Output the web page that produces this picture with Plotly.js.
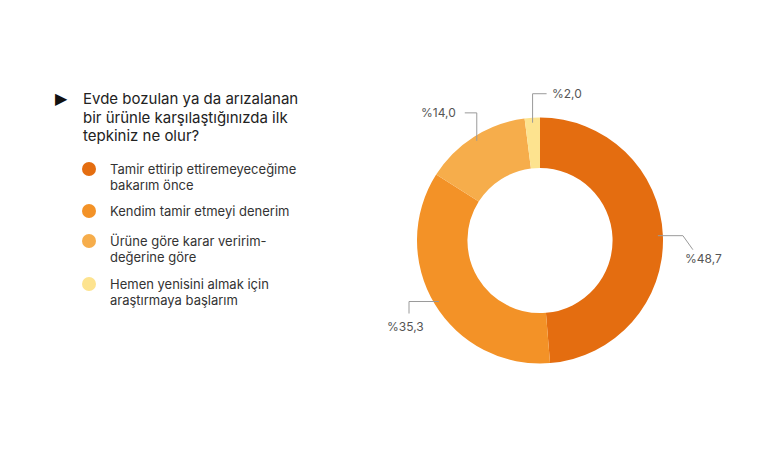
<!DOCTYPE html>
<html>
<head>
<meta charset="utf-8">
<script src="https://cdn.plot.ly/plotly-3.0.1.min.js"></script>
<style>
  html, body { margin: 0; padding: 0; background: #fff; }
  #chart { width: 770px; height: 450px; }
</style>
</head>
<body>
<div id="chart"></div>
<script>
// survey answers, in drawing order (clockwise from 12 o'clock)
const answers = [
    'Tamir ettirip ettiremeyeceğime<br>bakarım önce',
    'Kendim tamir etmeyi denerim',
    'Ürüne göre karar veririm-<br>değerine göre',
    'Hemen yenisini almak için<br>araştırmaya başlarım'
];
const shares = [48.7, 35.3, 14.0, 2.0];
const sliceColors = ['#E46D10', '#F39227', '#F6AD4B', '#FDE38F'];
const questionText = 'Evde bozulan ya da arızalanan<br>bir ürünle karşılaştığınızda ilk<br>tepkiniz ne olur?';

const W = 770, H = 450;
const FONT = 'Inter, "Open Sans", sans-serif';

// donut placement (pixels)
const cx = 540, cy = 240.5, R = 123;

const px = x => x / W;
const py = y => 1 - y / H;

// leader line layout per slice: first leg, second leg, label offset from end, anchor
const legs = [
    {a: [25, 0], b: [10, 14], off: [-10, 9], anchor: 'left'},
    {a: [-30, 0], b: [0, 12], off: [-4, 13], anchor: 'center'},
    {a: [0, -28], b: [-12, 0], off: [-7, 0], anchor: 'right'},
    {a: [0, -29], b: [14, 0], off: [3, 0], anchor: 'left'}
];

let shapes = [];
let annotations = [];

// one annotation per text line so the line spacing can be set
function addLines(text, x, y, gap, font) {
    text.split('<br>').forEach((line, k) => {
        annotations.push({
            xref: 'paper', yref: 'paper', showarrow: false,
            x: px(x), y: py(y + k * gap), xanchor: 'left', yanchor: 'middle',
            text: line, font: font
        });
    });
}

// leader lines + value labels, anchored on each slice's mid angle
let total = shares.reduce((s, v) => s + v, 0);
let acc = 0;
shares.forEach((v, i) => {
    let mid = (acc + v / 2) / total * 2 * Math.PI;
    acc += v;
    let x0 = cx + 118 * Math.sin(mid);
    let y0 = cy - 118 * Math.cos(mid);
    let x1 = x0 + legs[i].a[0], y1 = y0 + legs[i].a[1];
    let x2 = x1 + legs[i].b[0], y2 = y1 + legs[i].b[1];
    shapes.push({
        type: 'path', xref: 'paper', yref: 'paper',
        path: `M${px(x0)},${py(y0)} L${px(x1)},${py(y1)} L${px(x2)},${py(y2)}`,
        line: {color: '#9a9a9a', width: 1}
    });
    annotations.push({
        xref: 'paper', yref: 'paper', showarrow: false,
        x: px(x2 + legs[i].off[0]), y: py(y2 + legs[i].off[1]),
        xanchor: legs[i].anchor, yanchor: 'middle',
        text: '%' + v.toFixed(1).replace('.', ','),
        font: {family: FONT, size: 12, color: '#555'}
    });
});

// question heading
annotations.push({
    xref: 'paper', yref: 'paper', showarrow: false,
    x: px(53), y: py(99), xanchor: 'left', yanchor: 'middle',
    text: '▶', font: {family: 'DejaVu Sans', size: 16, color: '#111'}
});
addLines(questionText, 81, 99, 18.5, {family: FONT, size: 15, color: '#222'});

// legend: round markers and wrapped labels
const legendRows = [169, 211, 241, 284];
answers.forEach((name, i) => {
    shapes.push({
        type: 'circle', xref: 'paper', yref: 'paper',
        x0: px(82), x1: px(96), y0: py(legendRows[i] + 7), y1: py(legendRows[i] - 7),
        fillcolor: sliceColors[i], line: {width: 0}
    });
    addLines(name, 108, legendRows[i], 16, {family: FONT, size: 13, color: '#333'});
});

let trace = {
    type: 'pie',
    values: shares,
    labels: answers,
    hole: 0.59,
    sort: false,
    direction: 'clockwise',
    rotation: 0,
    textinfo: 'none',
    hoverinfo: 'skip',
    showlegend: false,
    marker: {colors: sliceColors, line: {color: '#fff', width: 0}},
    domain: {
        x: [px(cx - R), px(cx + R)],
        y: [py(cy + R), py(cy - R)]
    }
};

let layout = {
    width: W,
    height: H,
    margin: {t: 0, r: 0, b: 0, l: 0},
    paper_bgcolor: '#fff',
    plot_bgcolor: '#fff',
    showlegend: false,
    shapes: shapes,
    annotations: annotations
};

Plotly.newPlot('chart', [trace], layout, {displayModeBar: false, staticPlot: true});
</script>
</body>
</html>
